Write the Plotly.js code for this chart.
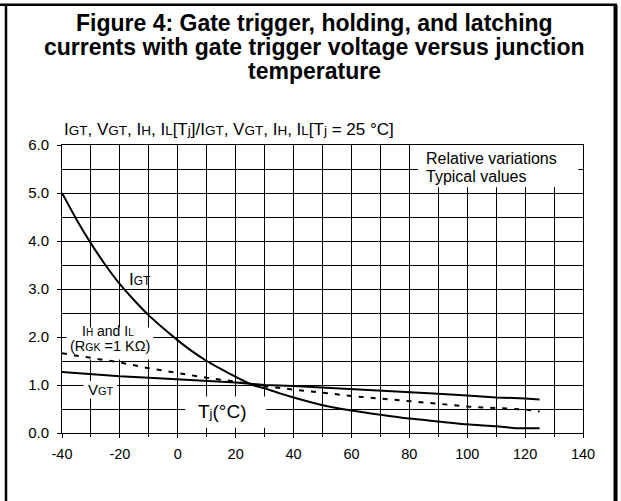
<!DOCTYPE html>
<html>
<head>
<meta charset="utf-8">
<script src="https://cdn.plot.ly/plotly-3.0.1.min.js"></script>
<style>html,body{margin:0;padding:0;background:#fff;}#chart{width:621px;height:501px;}</style>
</head>
<body>
<div id="chart"></div>
<script>
// Junction temperature (°C)
const tIGT = [-40, -35, -30, -25, -20, -15, -10, -5, 0, 5, 10, 15, 20, 26, 30, 35, 40, 50, 60, 70, 80, 90, 100, 110, 117, 125];
const vIGT = [5.00, 4.45, 3.95, 3.50, 3.10, 2.76, 2.45, 2.18, 1.93, 1.70, 1.50, 1.33, 1.17, 1.00, 0.93, 0.83, 0.74, 0.58, 0.47, 0.38, 0.30, 0.24, 0.18, 0.14, 0.10, 0.10];

const tVGT = [-40, -30, -20, -10, 0, 10, 20, 26, 30, 40, 50, 60, 70, 80, 90, 100, 110, 120, 125];
const vVGT = [1.27, 1.22, 1.18, 1.15, 1.12, 1.08, 1.05, 1.02, 1.00, 0.98, 0.95, 0.92, 0.89, 0.86, 0.82, 0.78, 0.74, 0.72, 0.70];

const tIHL = [-40, -30, -20, -10, 0, 10, 20, 26, 30, 40, 50, 60, 70, 80, 90, 100, 110, 120, 125];
const vIHL = [1.66, 1.56, 1.47, 1.35, 1.25, 1.15, 1.07, 1.00, 0.97, 0.91, 0.84, 0.77, 0.72, 0.67, 0.61, 0.55, 0.52, 0.49, 0.45];

const xTickVals = [-40, -20, 0, 20, 40, 60, 80, 100, 120, 140];
const xTickText = ['-40', '-20', '0', '20', '40', '60', '80', '100', '120', '140'];
const yTickVals = [0, 1, 2, 3, 4, 5, 6];
const yTickText = ['0.0', '1.0', '2.0', '3.0', '4.0', '5.0', '6.0'];

const titleLines = ['Figure 4: Gate trigger, holding, and latching', 'currents with gate trigger voltage versus junction', 'temperature'];
const titleY = [1.4249, 1.3410, 1.2567];
const titleSize = [23, 23, 23];
const xLabel = 'T<span style="font-size:13px">j</span>(°C)';
const sub = s => '<span style="font-size:13.5px">' + s + '</span>';
const yLabel = 'I' + sub('GT') + ', V' + sub('GT') + ', I' + sub('H') + ', I' + sub('L') + '[T' + sub('j') + ']/I' + sub('GT') + ', V' + sub('GT') + ', I' + sub('H') + ', I' + sub('L') + '[T' + sub('j') + ' = 25 °C]';

const FONT = 'Liberation Sans, Arial, sans-serif';
const traces = [
  {x: tIGT, y: vIGT, mode: 'lines', line: {color: '#000', width: 2, shape: 'spline', smoothing: 0.6}, name: 'IGT'},
  {x: tVGT, y: vVGT, mode: 'lines', line: {color: '#000', width: 2}, name: 'VGT'},
  {x: tIHL, y: vIHL, mode: 'lines', line: {color: '#000', width: 2, dash: '5px,7px'}, name: 'IH, IL'}
];

const annotations = titleLines.map((t, i) => ({
  xref: 'paper', yref: 'paper', x: (314 - 62) / 521, y: titleY[i], xanchor: 'center', yanchor: 'middle',
  showarrow: false, text: '<b>' + t + '</b>', font: {size: titleSize[i], family: FONT, color: '#000'}
}));
annotations.push(
  {xref: 'paper', yref: 'paper', x: 0.0, y: 1.055, xanchor: 'left', yanchor: 'middle', showarrow: false, text: yLabel, font: {size: 17, family: FONT, color: '#000'}},
  {xref: 'x', yref: 'y', x: -12.9, y: 3.2, showarrow: false, text: 'I<span style="font-size:12px">GT</span>', font: {size: 17, family: FONT, color: '#000'}},
  {xref: 'x', yref: 'y', x: -24, y: 2.12, showarrow: false, text: 'I<span style="font-size:10px">H</span> and I<span style="font-size:10px">L</span>', font: {size: 14, family: FONT, color: '#000'}},
  {xref: 'x', yref: 'y', x: -23.3, y: 1.81, showarrow: false, text: '(R<span style="font-size:10.5px">GK</span> =1 KΩ)', font: {size: 14.5, family: FONT, color: '#000'}},
  {xref: 'x', yref: 'y', x: -26.4, y: 0.91, showarrow: false, text: 'V<span style="font-size:11px">GT</span>', font: {size: 15, family: FONT, color: '#000'}},
  {xref: 'x', yref: 'y', x: 15.4, y: 0.44, showarrow: false, text: xLabel, font: {size: 19, family: FONT, color: '#000'}},
  {xref: 'x', yref: 'y', x: 85.0, y: 5.72, xanchor: 'left', showarrow: false, text: 'Relative variations', font: {size: 16, family: FONT, color: '#000'}},
  {xref: 'x', yref: 'y', x: 85.0, y: 5.35, xanchor: 'left', showarrow: false, text: 'Typical values', font: {size: 16, family: FONT, color: '#000'}}
);

const layout = {
  width: 621, height: 501,
  margin: {l: 62, r: 38, t: 145, b: 68},
  paper_bgcolor: '#fff', plot_bgcolor: '#fff',
  showlegend: false,
  font: {family: FONT, color: '#000', size: 14},
  xaxis: {
    range: [-40, 140], tickvals: xTickVals, ticktext: xTickText,
    showgrid: true, gridcolor: '#000', gridwidth: 1,
    minor: {dtick: 10, tick0: -40, showgrid: true, gridcolor: '#000', gridwidth: 1, ticks: 'outside', ticklen: 3, tickcolor: '#000'},
    ticks: 'outside', ticklen: 4, tickcolor: '#000', ticklabelstandoff: 4,
    showline: true, linecolor: '#000', linewidth: 1, mirror: true,
    zeroline: false, tickfont: {size: 14.5, color: '#000', family: FONT}, fixedrange: true
  },
  yaxis: {
    range: [0, 6], tickvals: yTickVals, ticktext: yTickText,
    showgrid: true, gridcolor: '#000', gridwidth: 1,
    minor: {dtick: 0.5, tick0: 0, showgrid: true, gridcolor: '#000', gridwidth: 1},
    ticks: 'outside', ticklen: 4, tickcolor: '#000', ticklabelstandoff: 5,
    showline: true, linecolor: '#000', linewidth: 1, mirror: true,
    zeroline: false, tickfont: {size: 15, color: '#000', family: FONT}, fixedrange: true
  },
  shapes: [
    // white boxes behind labels
    {type: 'rect', xref: 'x', yref: 'y', x0: 83, x1: 138.4, y0: 5.12, y1: 6, fillcolor: '#fff', line: {width: 0}, layer: 'between'},
    {type: 'rect', xref: 'x', yref: 'y', x0: -38.5, x1: -8.5, y0: 1.53, y1: 2.2, fillcolor: '#fff', line: {width: 0}, layer: 'between'},
    {type: 'rect', xref: 'x', yref: 'y', x0: -32.6, x1: -20.9, y0: 0.72, y1: 1.09, fillcolor: '#fff', line: {width: 0}, layer: 'between'},
    {type: 'rect', xref: 'x', yref: 'y', x0: 2.6, x1: 30.5, y0: 0.11, y1: 0.76, fillcolor: '#fff', line: {width: 0}, layer: 'between'},
    // outer frame
    {type: 'line', xref: 'paper', yref: 'paper', x0: -0.125, x1: 1.065, y0: 1.4873, y1: 1.4873, line: {color: '#000', width: 2.5}},
    {type: 'line', xref: 'paper', yref: 'paper', x0: -0.1075, x1: -0.1075, y0: 1.4873, y1: -0.3, line: {color: '#000', width: 2.5}},
    {type: 'line', xref: 'paper', yref: 'paper', x0: 1.0624, x1: 1.0624, y0: 1.4873, y1: -0.3, line: {color: '#000', width: 4}}
  ],
  annotations: annotations
};

Plotly.newPlot('chart', traces, layout, {displayModeBar: false, staticPlot: true});
</script>
</body>
</html>
